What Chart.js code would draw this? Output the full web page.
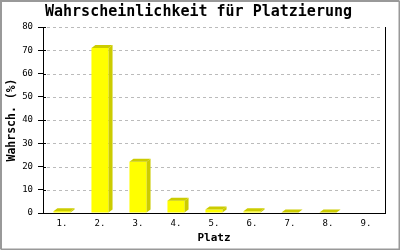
<!DOCTYPE html>
<html>
<head>
<meta charset="utf-8">
<script src="https://cdn.jsdelivr.net/npm/chart.js@4/dist/chart.umd.min.js"></script>
<style>
  body { margin: 0; background: #fff; }
  canvas { display: block; }
</style>
</head>
<body>
<canvas id="platzChart" width="400" height="250"></canvas>
<script>
// Daten
const platzLabels = ['1.', '2.', '3.', '4.', '5.', '6.', '7.', '8.', '9.'];
const wahrscheinlichkeit = [0.8, 71, 22, 5.3, 1.5, 0.7, 0.2, 0.2, 0];
const yTicks = [0, 10, 20, 30, 40, 50, 60, 70, 80];

const MONO = '"DejaVu Sans Mono", "Liberation Mono", monospace';

// Rahmen + weisser Hintergrund
const rahmen = {
    id: 'rahmen',
    beforeDraw(chart) {
        const ctx = chart.ctx;
        ctx.save();
        ctx.fillStyle = '#fff';
        ctx.fillRect(0, 0, chart.width, chart.height);
        ctx.strokeStyle = '#999';
        ctx.lineWidth = 1;
        ctx.strokeRect(0.5, 0.5, chart.width - 1.5, chart.height - 1.5);
        ctx.strokeRect(1.5, 1.5, chart.width - 2, chart.height - 2);
        ctx.restore();
    },
    afterDraw(chart) {
        // rechte Linie
        const a = chart.chartArea;
        const ctx = chart.ctx;
        ctx.save();
        ctx.strokeStyle = '#000';
        ctx.lineWidth = 1;
        ctx.beginPath();
        ctx.moveTo(Math.round(a.right) + 0.5, a.top);
        ctx.lineTo(Math.round(a.right) + 0.5, a.bottom);
        ctx.stroke();
        ctx.restore();
    }
};

// gestrichelte Gitterlinien
const gitter = {
    id: 'gitter',
    beforeDatasetsDraw(chart) {
        const a = chart.chartArea;
        const y = chart.scales.y;
        const ctx = chart.ctx;
        ctx.save();
        ctx.lineWidth = 1;
        yTicks.forEach(v => {
            const py = Math.round(y.getPixelForValue(v)) + 0.5;
            // Strich ueber die Achse
            ctx.setLineDash([]);
            ctx.strokeStyle = '#000';
            ctx.beginPath();
            ctx.moveTo(a.left, py);
            ctx.lineTo(a.left + 3, py);
            ctx.stroke();
            if (v === 0) return;
            ctx.strokeStyle = '#bbb';
            ctx.setLineDash([3, 3]);
            ctx.beginPath();
            ctx.moveTo(a.left + 4, py);
            ctx.lineTo(a.right - 2, py);
            ctx.stroke();
        });
        ctx.restore();
    }
};

// 3D-Effekt fuer Balken
const balken3d = {
    id: 'balken3d',
    afterDatasetsDraw(chart) {
        const ctx = chart.ctx;
        const meta = chart.getDatasetMeta(0);
        const dx = 4, dy = 3;
        ctx.save();
        ctx.fillStyle = '#cccc00';
        meta.data.forEach((bar, i) => {
            if (!wahrscheinlichkeit[i]) return;
            const l = bar.x - bar.width / 2;
            const r = bar.x + bar.width / 2;
            const t = bar.y;
            const b = bar.base;
            // Seite
            ctx.beginPath();
            ctx.moveTo(r, t);
            ctx.lineTo(r + dx, t - dy);
            ctx.lineTo(r + dx, b - dy);
            ctx.lineTo(r, b);
            ctx.closePath();
            ctx.fill();
            // Deckel
            ctx.beginPath();
            ctx.moveTo(l, t);
            ctx.lineTo(l + dx, t - dy);
            ctx.lineTo(r + dx, t - dy);
            ctx.lineTo(r, t);
            ctx.closePath();
            ctx.fill();
        });
        ctx.restore();
    }
};

const config = {
    type: 'bar',
    data: {
        labels: platzLabels,
        datasets: [{
            data: wahrscheinlichkeit,
            backgroundColor: '#ffff00',
            borderWidth: 0,
            categoryPercentage: 1,
            barPercentage: 0.45
        }]
    },
    options: {
        responsive: false,
        animation: false,
        layout: { padding: { left: 12, right: 15, top: 0, bottom: 0 } },
        plugins: {
            legend: { display: false },
            tooltip: { enabled: false },
            title: {
                display: true,
                text: 'Wahrscheinlichkeit für Platzierung',
                color: '#000',
                font: { family: MONO, size: 15, weight: 'bold' },
                padding: { top: 3, bottom: 6 }
            }
        },
        scales: {
            x: {
                grid: { display: false, drawTicks: false },
                border: { display: true, color: '#000', width: 1 },
                ticks: {
                    color: '#000',
                    font: { family: MONO, size: 9 },
                    padding: 5
                },
                title: {
                    display: true,
                    text: 'Platz',
                    color: '#000',
                    font: { family: MONO, size: 11, weight: 'bold' },
                    padding: { top: 0, bottom: 5 }
                },
                afterFit(scale) { scale.height = 37; }
            },
            y: {
                min: 0,
                max: 80,
                grid: {
                    color: 'transparent',
                    drawOnChartArea: false,
                    tickColor: '#000',
                    tickLength: 5
                },
                border: { display: true, color: '#000', width: 1 },
                ticks: {
                    stepSize: 10,
                    color: '#000',
                    font: { family: MONO, size: 9 },
                    padding: 5,
                    callback: (v) => yTicks.includes(v) ? v : ''
                },
                title: {
                    display: true,
                    text: 'Wahrsch. (%)',
                    color: '#000',
                    font: { family: MONO, size: 11.5, weight: 'bold' },
                    padding: { top: -7, bottom: 0 }
                },
                afterFit(scale) { scale.width = 31; }
            }
        }
    },
    plugins: [rahmen, gitter, balken3d]
};

new Chart(document.getElementById('platzChart'), config);
</script>
</body>
</html>
